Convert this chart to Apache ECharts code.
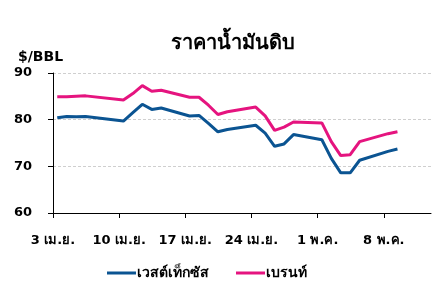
<!DOCTYPE html>
<html>
<head>
<meta charset="utf-8">
<script src="https://cdn.jsdelivr.net/npm/echarts@6/dist/echarts.min.js"></script>
<style>
html,body{margin:0;padding:0;background:#fff;}
#chart{width:447px;height:287px;}
</style>
</head>
<body>
<div id="chart"></div>
<script>
// Trading dates (2023) and closing prices, $/BBL
const dates = ['04-03','04-04','04-05','04-06','04-10','04-11','04-12','04-13','04-14',
  '04-17','04-18','04-19','04-20','04-21','04-24','04-25','04-26','04-27','04-28',
  '05-01','05-02','05-03','05-04','05-05','05-08','05-09'];
const wti = [80.4,80.7,80.6,80.7,79.7,81.5,83.3,82.2,82.5,
  80.8,80.9,79.2,77.4,77.9,78.8,77.1,74.3,74.8,76.8,
  75.7,71.7,68.6,68.6,71.3,73.2,73.7];
const brent = [84.9,84.9,85.0,85.1,84.2,85.6,87.3,86.1,86.3,
  84.8,84.8,83.1,81.1,81.7,82.7,80.8,77.7,78.4,79.5,
  79.3,75.3,72.3,72.5,75.3,77.0,77.4];
const tickLabels = ['3 เม.ย.','10 เม.ย.','17 เม.ย.','24 เม.ย.','1 พ.ค.','8 พ.ค.'];
const seriesNames = ['เวสต์เท็กซัส','เบรนท์'];
const titleText = 'ราคาน้ำมันดิบ';
const unitText = '$/BBL';

const start = Date.UTC(2023,3,3);
const DAY = 86400000;
function dayIndex(s){ const [m,d]=s.split('-').map(Number); return (Date.UTC(2023,m-1,d)-start)/DAY + 0.45; }
const xs = dates.map(dayIndex);
const tickDays = tickLabels.map((_,i)=>i*7);

const FONT = '"DejaVu Sans", "Liberation Sans", sans-serif';
const chart = echarts.init(document.getElementById('chart'));
chart.setOption({
  animation:false,
  backgroundColor:'#fff',
  textStyle:{fontFamily:FONT},
  title:[
    {text:titleText,left:166,top:29,textStyle:{fontSize:20,fontWeight:'bold',color:'#000',fontFamily:FONT}},
    {text:unitText,left:13,top:45,textStyle:{fontSize:14,fontWeight:'bold',color:'#000',fontFamily:FONT}}
  ],
  grid:{left:53,right:16,top:73,bottom:74},
  legend:{
    top:261,left:107,padding:[5,5,5,0],
    icon:'rect',itemWidth:29,itemHeight:3,itemGap:27,
    textStyle:{fontSize:14,fontWeight:'bold',color:'#000',fontFamily:FONT,padding:[0,0,0,-4]},
    data:seriesNames
  },
  xAxis:{
    type:'value',min:0,max:40,
    axisLine:{show:true,lineStyle:{color:'#000',width:1}},
    axisTick:{show:true,length:5,lineStyle:{color:'#000'},customValues:tickDays},
    axisLabel:{customValues:tickDays,formatter:v=>tickLabels[Math.round(v/7)],
      fontSize:13,fontWeight:'bold',color:'#000',margin:21},
    splitLine:{show:false}
  },
  yAxis:{
    type:'value',min:60,max:90,interval:10,
    axisLine:{show:true,lineStyle:{color:'#000',width:1}},
    axisTick:{show:true,length:5,lineStyle:{color:'#000'}},
    axisLabel:{fontSize:13,fontWeight:'bold',color:'#000',margin:21},
    splitLine:{show:true,lineStyle:{color:'#cfcfcf',type:[3,2],width:1}}
  },
  series:[
    {name:seriesNames[0],type:'line',data:xs.map((x,i)=>[x,wti[i]]),showSymbol:false,
      color:'#0b5492',lineStyle:{width:3,color:'#0b5492'}},
    {name:seriesNames[1],type:'line',data:xs.map((x,i)=>[x,brent[i]]),showSymbol:false,
      color:'#e5147f',lineStyle:{width:3,color:'#e5147f'}}
  ]
});
</script>
</body>
</html>
